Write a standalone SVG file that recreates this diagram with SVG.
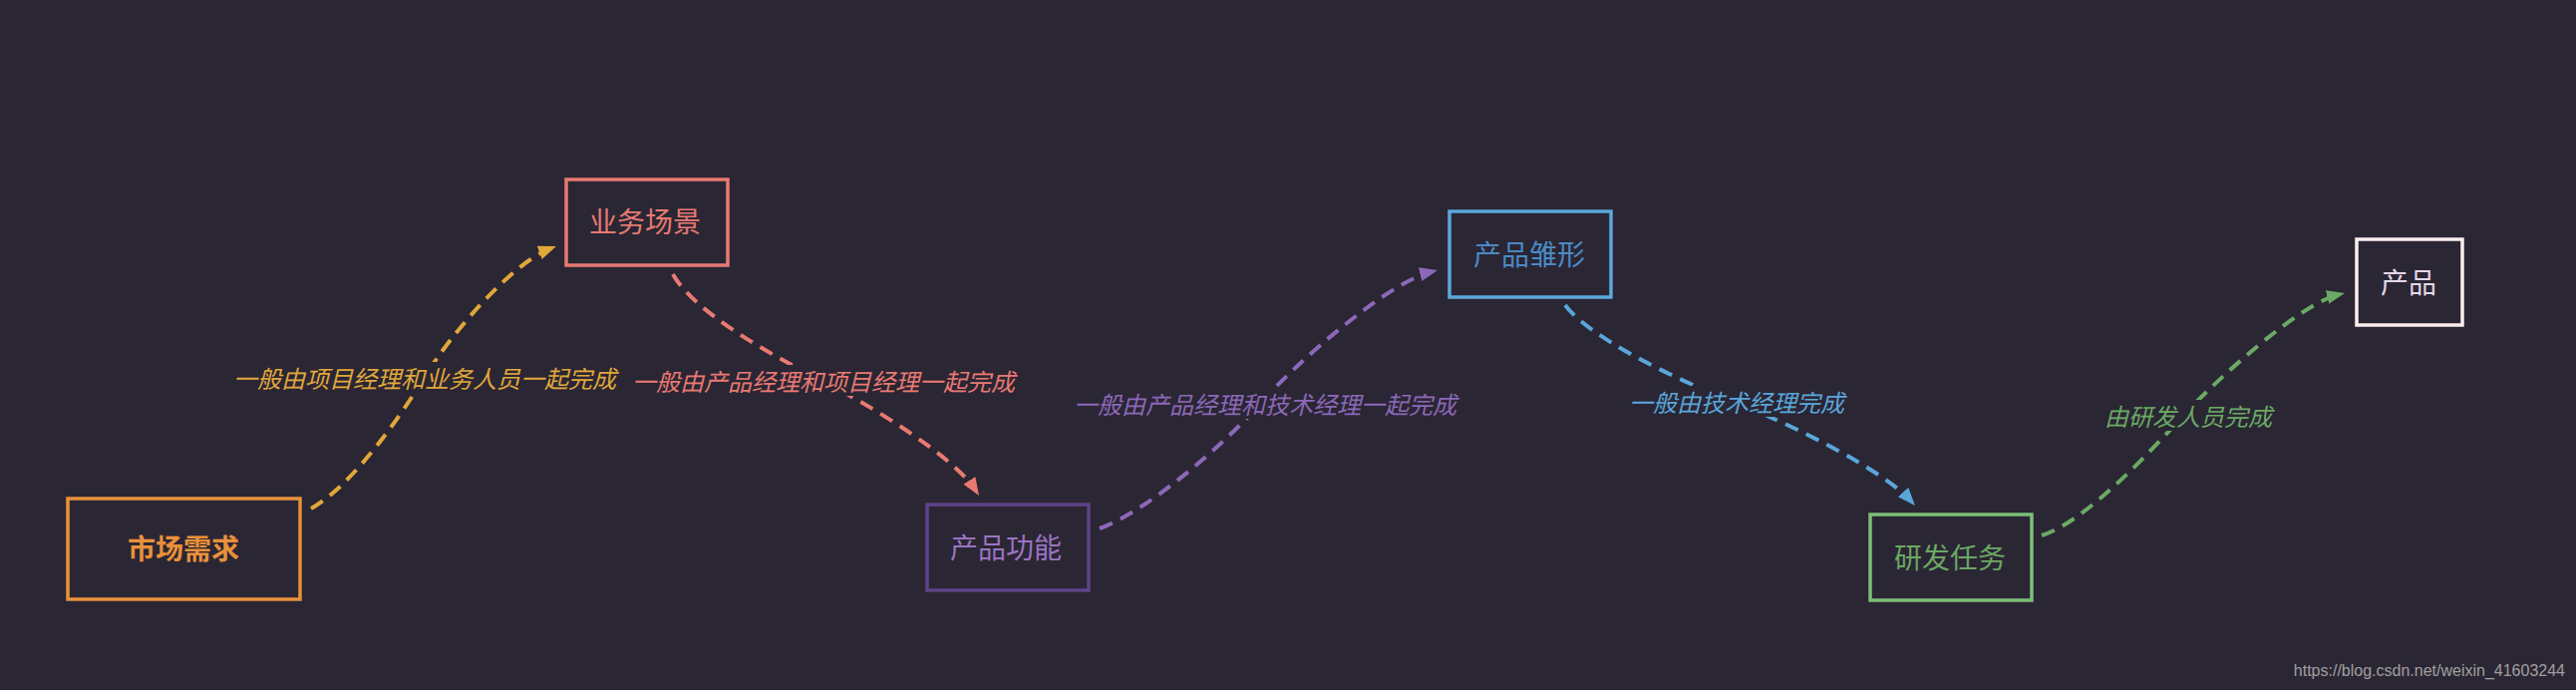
<svg xmlns="http://www.w3.org/2000/svg" width="2584" height="692" viewBox="0 0 2584 692">
<style>
.node rect{fill:#2b2634;stroke-width:3.5}
.node text{font-family:"Noto Sans CJK SC","Noto Sans",sans-serif;font-size:28px;text-anchor:middle;dominant-baseline:central}
.edge{fill:none;stroke-width:4;stroke-dasharray:14 9}
.lbl rect{fill:#2b2634}
.lbl text{font-family:"Noto Sans CJK SC","Noto Sans",sans-serif;font-size:24px;font-style:italic;text-anchor:middle;dominant-baseline:central}
</style>
<defs>
<marker id="m1" viewBox="0 0 18 14" refX="12" refY="7" markerWidth="18" markerHeight="14" markerUnits="userSpaceOnUse" orient="auto"><path d="M0,0 L18,7 L0,14 z" fill="#e0a83a"/></marker>
<marker id="m2" viewBox="0 0 18 14" refX="12" refY="7" markerWidth="18" markerHeight="14" markerUnits="userSpaceOnUse" orient="auto"><path d="M0,0 L18,7 L0,14 z" fill="#e87a72"/></marker>
<marker id="m3" viewBox="0 0 18 14" refX="12" refY="7" markerWidth="18" markerHeight="14" markerUnits="userSpaceOnUse" orient="auto"><path d="M0,0 L18,7 L0,14 z" fill="#8c68b8"/></marker>
<marker id="m4" viewBox="0 0 18 14" refX="12" refY="7" markerWidth="18" markerHeight="14" markerUnits="userSpaceOnUse" orient="auto"><path d="M0,0 L18,7 L0,14 z" fill="#5aa6da"/></marker>
<marker id="m5" viewBox="0 0 18 14" refX="12" refY="7" markerWidth="18" markerHeight="14" markerUnits="userSpaceOnUse" orient="auto"><path d="M0,0 L18,7 L0,14 z" fill="#6aaa64"/></marker>
</defs>
<rect width="2584" height="692" fill="#2b2634"/>

<g id="connectors">
<path class="edge" stroke="#e0a83a" marker-end="url(#m1)" d="M312,510 C352,488 400,420.5 426,378 C452,335.5 513,264 552.4,249.1"/>
<path class="edge" stroke="#e87a72" marker-end="url(#m2)" d="M675,275 C694,310 767,353 821,380 C875,407 958,459 978.8,492"/>
<path class="edge" stroke="#8c68b8" marker-end="url(#m3)" d="M1103,530 C1150,513.5 1227.7,446 1264,405 C1300,363.75 1393,282.5 1436.2,272.4"/>
<path class="edge" stroke="#5aa6da" marker-end="url(#m4)" d="M1570,306 C1594,338 1678,379.5 1739,403 C1800,426.5 1891,473 1917,502.5"/>
<path class="edge" stroke="#6aaa64" marker-end="url(#m5)" d="M2048,537 C2091,524 2156,454 2190,417 C2224,380 2308,304 2346.2,295.3"/>
</g>

<g id="edge-labels">
<g class="lbl"><rect x="234" y="363" width="384" height="31"/><text x="426" y="378" fill="#e0a83a">一般由项目经理和业务人员一起完成</text></g>
<g class="lbl"><rect x="634" y="366" width="384" height="31"/><text x="826" y="381" fill="#e87a72">一般由产品经理和项目经理一起完成</text></g>
<g class="lbl"><rect x="1077" y="389" width="384" height="31"/><text x="1269" y="404" fill="#8c68b8">一般由产品经理和技术经理一起完成</text></g>
<g class="lbl"><rect x="1634" y="387" width="216" height="31"/><text x="1742" y="402" fill="#5aa6da">一般由技术经理完成</text></g>
<g class="lbl"><rect x="2111" y="401" width="168" height="31"/><text x="2195" y="416" fill="#6aaa64">由研发人员完成</text></g>
</g>

<g id="node-market" class="node"><rect x="68" y="500" width="233" height="101" stroke="#e8913a"/><text x="184" y="549" fill="#e8913a" font-weight="bold">市场需求</text></g>
<g id="node-scene" class="node"><rect x="568" y="180" width="162" height="86" stroke="#e87a72"/><text x="647" y="221" fill="#e87a72">业务场景</text></g>
<g id="node-function" class="node"><rect x="930" y="506" width="162" height="86" stroke="#5e4388"/><text x="1009" y="548" fill="#9a74c2">产品功能</text></g>
<g id="node-prototype" class="node"><rect x="1454" y="212" width="162" height="86" stroke="#5ba8dc"/><text x="1534" y="254" fill="#4a8ac4">产品雏形</text></g>
<g id="node-dev" class="node"><rect x="1876" y="516" width="162" height="86" stroke="#7dbf78"/><text x="1956" y="558" fill="#6aa864">研发任务</text></g>
<g id="node-product" class="node"><rect x="2364" y="240" width="106" height="86" stroke="#fdeeee"/><text x="2416" y="282" fill="#e4d8e8">产品</text></g>

<text x="2573" y="678" font-family="Liberation Sans, Arial, sans-serif" font-size="16" fill="#a0a0a0" text-anchor="end">https://blog.csdn.net/weixin_41603244</text>
</svg>
